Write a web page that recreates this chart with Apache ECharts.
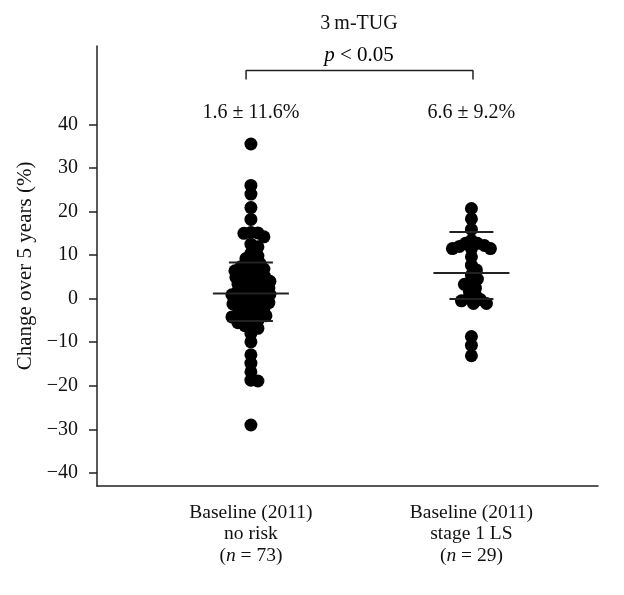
<!DOCTYPE html>
<html><head><meta charset="utf-8">
<script src="https://cdn.jsdelivr.net/npm/echarts@6/dist/echarts.min.js"></script>
<style>html,body{margin:0;padding:0;background:#fff}#c{width:624px;height:595px}</style>
</head><body><div id="c"></div>
<script>
// ---- data ----
const categories = ['Baseline (2011)\nno risk', 'Baseline (2011)\nstage 1 LS'];
const groupN = [73, 29];
const noRisk = [35.5, 26.0, 24.0, 20.9, 18.2, 15.2, 15.0, 15.1, 14.2, 12.5, 11.9, 10.4, 9.8,
  9.2, 8.7, 8.1, 7.6, 7.0, 6.8, 6.1, 5.7, 5.3, 4.9, 4.6, 4.0, 3.7, 3.2, 2.9,
  2.5, 2.1, 1.8, 1.3, 1.0, 0.6, 0.2, -0.1, -0.4, -0.9, -1.2, -1.6, -2.0, -2.3, -2.8,
  -3.1, -3.5, -3.9, -4.2, -4.6, -5.0, -5.5, -5.9, -6.2, 6.4, 3.4, 0.9, -1.8, -3.3,
  5.0, 2.2, -0.6, 7.3, 1.5, -4.4, 4.2,
  -6.8, -8.0, -9.9, -12.9, -14.8, -16.8, -18.7, -18.9, -29.0];
const stage1 = [20.7, 18.3, 15.9, 13.4, 12.7, 12.7, 12.2, 12.0, 11.5, 11.5, 11.5,
  9.6, 7.7, 6.6, 5.4, 4.5, 3.7, 3.3, 2.4, 1.6, 0.8, 0.1, -0.2, -0.5, -1.1, -1.1,
  -8.7, -10.7, -13.1];
const centerLines = [1.2, 5.9];
const upperLines = [8.3, 15.3];
const lowerLines = [-5.1, -0.1];
const statLabels = ['1.6 \u00b1 11.6%', '6.6 \u00b1 9.2%'];
const yTicks = [-40, -30, -20, -10, 0, 10, 20, 30, 40];
const titleText = '3\u2009m-TUG';
const pText = ' < 0.05';

// ---- layout ----
const FONT = 'Liberation Serif';
const GRID = {left: 97, right: 26, top: 46, bottom: 109};
const Y_MIN = -43, Y_MAX = 58;
const X_MIN = 0.302, X_MAX = 2.574;
const W = 624, H = 595;
const pxPerY = (H - GRID.top - GRID.bottom) / (Y_MAX - Y_MIN);
const pxPerX = (W - GRID.left - GRID.right) / (X_MAX - X_MIN);
const MIN_DIST = 6.6;

function swarm(values, center) {
  const placed = [];
  const order = values.map((v, i) => i).sort((a, b) => values[b] - values[a]);
  const out = [];
  for (const i of order) {
    const y = values[i] * pxPerY;
    let off = 0;
    for (let k = 0; k < 80; k++) {
      const cand = (k % 2 === 1 ? 1 : -1) * Math.ceil(k / 2) * 1;
      if (placed.every(p => Math.hypot(p[0] - cand, p[1] - y) >= MIN_DIST)) { off = cand; break; }
    }
    placed.push([off, y]);
    out.push([center + off / pxPerX, values[i]]);
  }
  return out;
}

const lineItems = [];
[0, 1].forEach(g => {
  lineItems.push([g + 1, centerLines[g], 38 / pxPerX]);
  lineItems.push([g + 1, upperLines[g], 22 / pxPerX]);
  lineItems.push([g + 1, lowerLines[g], 22 / pxPerX]);
});

const chart = echarts.init(document.getElementById('c'), null, {renderer: 'canvas'});
const rich = {
  t: {fontFamily: FONT, fontSize: 19.5, lineHeight: 21.5, color: '#111'},
  i: {fontFamily: FONT, fontSize: 19.5, lineHeight: 21.5, color: '#111', fontStyle: 'italic'}
};
const richP = {
  t: {fontFamily: FONT, fontSize: 21, color: '#111'},
  i: {fontFamily: FONT, fontSize: 21, color: '#111', fontStyle: 'italic'}
};
chart.setOption({
  animation: false,
  backgroundColor: '#fff',
  grid: GRID,
  xAxis: {
    type: 'value', min: X_MIN, max: X_MAX,
    axisLine: {show: true, onZero: false, lineStyle: {color: '#222', width: 1.5}},
    axisTick: {show: false},
    splitLine: {show: false},
    axisLabel: {
      customValues: [1, 2], margin: 16, align: 'center',
      formatter: v => {
        const i = Math.round(v) - 1;
        if (i < 0 || i > 1) return '';
        return categories[i].split('\n').map(s => '{t|' + s + '}').join('\n') +
          '\n{t|(}{i|n}{t| = ' + groupN[i] + ')}';
      },
      rich: rich
    }
  },
  yAxis: {
    type: 'value', min: Y_MIN, max: Y_MAX,
    name: 'Change over 5 years (%)', nameLocation: 'middle', nameGap: 60,
    nameTextStyle: {fontFamily: FONT, fontSize: 21, color: '#111'},
    axisLine: {show: true, lineStyle: {color: '#222', width: 1.5}},
    axisTick: {show: true, customValues: yTicks, length: 8, lineStyle: {color: '#222', width: 1.5}},
    splitLine: {show: false},
    axisLabel: {
      customValues: yTicks, margin: 19,
      fontFamily: FONT, fontSize: 20, color: '#111',
      formatter: v => v < 0 ? '\u2212' + Math.abs(v) : String(v)
    }
  },
  series: [
    {type: 'scatter', data: swarm(noRisk, 1), symbolSize: 13, itemStyle: {color: '#000', opacity: 1}, silent: true},
    {type: 'scatter', data: swarm(stage1, 2), symbolSize: 13, itemStyle: {color: '#000', opacity: 1}, silent: true},
    {
      type: 'custom', data: lineItems, silent: true, z: 5,
      renderItem: (params, api) => {
        const x = api.value(0), y = api.value(1), hw = api.value(2);
        const p1 = api.coord([x - hw, y]), p2 = api.coord([x + hw, y]);
        return {type: 'line', shape: {x1: p1[0], y1: p1[1], x2: p2[0], y2: p2[1]},
          style: {stroke: '#222', lineWidth: 2}};
      }
    },
    {
      type: 'line', symbol: 'none', silent: true,
      data: [[0.978, 50.3], [0.978, 52.4], [2.007, 52.4], [2.007, 50.3]],
      lineStyle: {color: '#222', width: 1.5}
    },
    {
      type: 'custom', silent: true,
      data: [[1, 42.6, 0], [2, 42.6, 1]],
      renderItem: (params, api) => {
        const p = api.coord([api.value(0), api.value(1)]);
        return {type: 'text', x: p[0], y: p[1],
          style: {text: statLabels[api.value(2)], font: '20px "' + FONT + '"', fill: '#111',
            align: 'center', verticalAlign: 'middle'}};
      }
    }
  ],
  graphic: [
    {type: 'text', x: 359, y: 24, style: {text: titleText, font: '20px "' + FONT + '"', fill: '#111', align: 'center', verticalAlign: 'middle'}},
    {type: 'text', x: 359, y: 55, style: {text: '{i|p}{t|' + pText + '}', align: 'center', verticalAlign: 'middle', rich: richP}}
  ]
});
</script></body></html>
